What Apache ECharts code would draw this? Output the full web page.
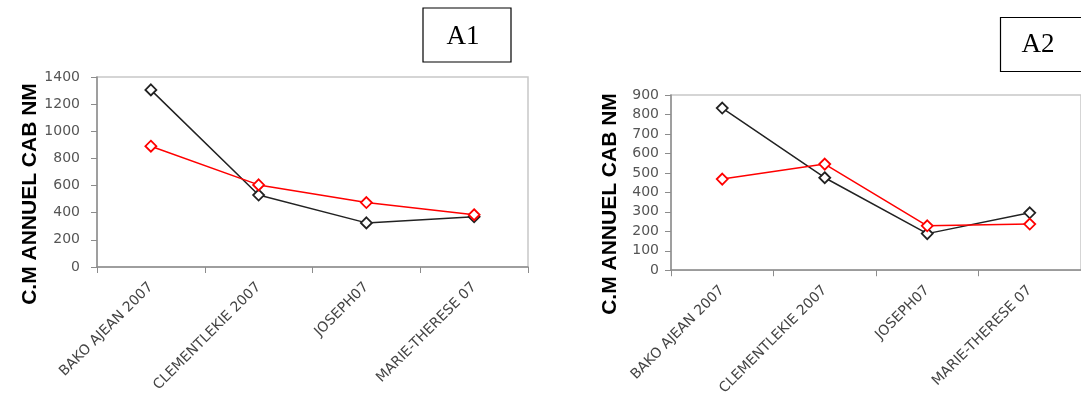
<!DOCTYPE html>
<html>
<head>
<meta charset="utf-8">
<script src="https://cdn.jsdelivr.net/npm/echarts@6/dist/echarts.min.js"></script>
<style>
  html, body { margin: 0; padding: 0; background: #fff; }
  #chart { width: 1081px; height: 398px; }
</style>
</head>
<body>
<div id="chart"></div>
<script>
// categories shared by both panels
const categories = ['BAKO AJEAN 2007', 'CLEMENTLEKIE 2007', 'JOSEPH07', 'MARIE-THERESE 07'];

// panel A1
const a1Black = [1305, 530, 325, 370];
const a1Red = [890, 605, 475, 385];
const a1Ticks = { min: 0, max: 1400, interval: 200 };

// panel A2
const a2Black = [833, 475, 188, 295];
const a2Red = [468, 545, 228, 237];
const a2Ticks = { min: 0, max: 900, interval: 100 };

const yTitle = 'C.M ANNUEL CAB NM';

const chart = echarts.init(document.getElementById('chart'), null, { renderer: 'canvas' });

function xAxisFor(gridIndex) {
    return {
        type: 'category',
        gridIndex: gridIndex,
        data: categories,
        boundaryGap: true,
        axisLine: { lineStyle: { color: '#8c8c8c', width: 1.5 } },
        axisTick: { show: true, length: 6, lineStyle: { color: '#8c8c8c' } },
        axisLabel: {
            rotate: 45,
            margin: 18,
            color: '#444',
            fontFamily: 'DejaVu Sans',
            fontSize: 14
        },
        splitLine: { show: false }
    };
}

function yAxisFor(gridIndex, ticks, margin) {
    return {
        type: 'value',
        gridIndex: gridIndex,
        min: ticks.min,
        max: ticks.max,
        interval: ticks.interval,
        axisLine: { show: true, lineStyle: { color: '#8c8c8c', width: 1.5 } },
        axisTick: { show: true, length: 6, lineStyle: { color: '#8c8c8c' } },
        axisLabel: {
            margin: margin,
            color: '#555',
            fontFamily: 'DejaVu Sans',
            fontSize: 14,
            formatter: v => String(v)
        },
        splitLine: { show: false }
    };
}

function lineSeries(idx, values, color) {
    return {
        type: 'line',
        xAxisIndex: idx,
        yAxisIndex: idx,
        data: values,
        symbol: 'diamond',
        symbolSize: 11,
        showAllSymbol: true,
        lineStyle: { color: color, width: 1.5 },
        itemStyle: { color: '#fff', borderColor: color, borderWidth: 1.8 },
        emphasis: { disabled: true },
        animation: false
    };
}

chart.setOption({
    backgroundColor: '#fff',
    animation: false,
    grid: [
        { left: 97, top: 77, width: 431, height: 190, show: true, borderColor: '#c8c8c8', borderWidth: 1.5, backgroundColor: 'transparent' },
        { left: 671, top: 95, width: 420, height: 178, show: true, borderColor: '#c8c8c8', borderWidth: 1.5, backgroundColor: 'transparent' }
    ],
    xAxis: [xAxisFor(0), xAxisFor(1)],
    yAxis: [yAxisFor(0, a1Ticks, 17), yAxisFor(1, a2Ticks, 12)],
    series: [
        lineSeries(0, a1Black, '#222'),
        lineSeries(0, a1Red, '#ff0000'),
        lineSeries(1, a2Black, '#222'),
        lineSeries(1, a2Red, '#ff0000')
    ],
    graphic: [
        {
            type: 'text', x: 30, y: 194, rotation: Math.PI / 2,
            style: { text: yTitle, fill: '#000', font: 'bold 21px "Liberation Sans"', align: 'center', verticalAlign: 'middle' }
        },
        {
            type: 'text', x: 610, y: 204, rotation: Math.PI / 2,
            style: { text: yTitle, fill: '#000', font: 'bold 21px "Liberation Sans"', align: 'center', verticalAlign: 'middle' }
        },
        {
            type: 'rect', shape: { x: 423, y: 8, width: 88, height: 54 },
            style: { fill: '#fff', stroke: '#000', lineWidth: 1.2 }
        },
        {
            type: 'text', x: 463, y: 37,
            style: { text: 'A1', fill: '#000', font: '27px "Liberation Serif"', align: 'center', verticalAlign: 'middle' }
        },
        {
            type: 'rect', shape: { x: 1000.5, y: 17.5, width: 90, height: 54 },
            style: { fill: '#fff', stroke: '#000', lineWidth: 1.2 }
        },
        {
            type: 'text', x: 1038, y: 45,
            style: { text: 'A2', fill: '#000', font: '27px "Liberation Serif"', align: 'center', verticalAlign: 'middle' }
        }
    ]
});
</script>
</body>
</html>
